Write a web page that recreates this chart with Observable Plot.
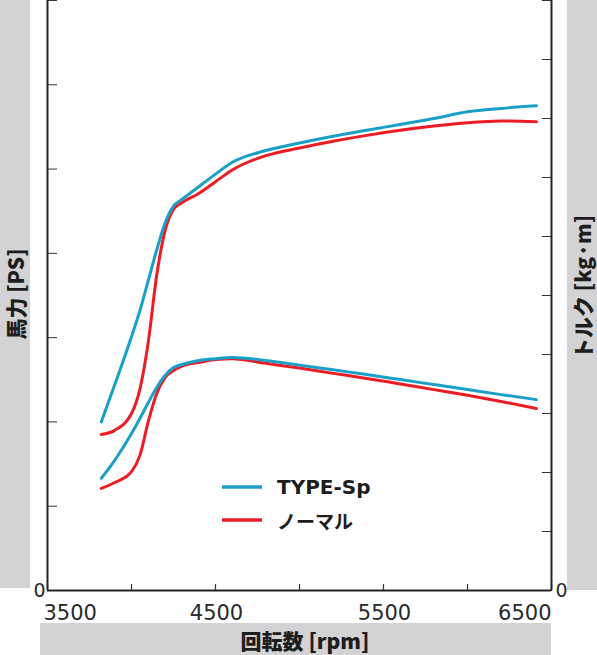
<!DOCTYPE html>
<html>
<head>
<meta charset="utf-8">
<script src="https://cdn.jsdelivr.net/npm/d3@7"></script>
<script src="https://cdn.jsdelivr.net/npm/@observablehq/plot@0.6"></script>
<style>
  body { margin: 0; background: #ffffff; }
</style>
</head>
<body>
<div id="chart"></div>
<script>
// engine speed (rpm) where the curves were read
const rpm = [3820, 3900, 4000, 4050, 4100, 4150, 4200, 4250, 4300, 4400, 4500,
  4600, 4800, 5000, 5200, 5400, 5600, 5800, 6000, 6200, 6410]

// power [PS]
const psSp =     [20.0, 24.4, 30.1, 33.2, 36.8, 40.4, 43.6, 45.6, 46.4, 47.9, 49.4,
  50.8, 52.2, 53.1, 53.9, 54.6, 55.3, 56.0, 56.8, 57.2, 57.5]
const psNormal = [18.5, 19.0, 21.0, 23.9, 29.5, 37.4, 42.7, 45.2, 46.0, 47.1, 48.5,
  49.9, 51.6, 52.5, 53.3, 54.0, 54.6, 55.1, 55.5, 55.7, 55.6]

// torque [kg·m]
const tqSp =     [3.80, 4.41, 5.32, 5.83, 6.37, 6.88, 7.29, 7.56, 7.66, 7.80, 7.86,
  7.90, 7.80, 7.64, 7.48, 7.32, 7.15, 6.98, 6.81, 6.64, 6.47]
const tqNormal = [3.46, 3.66, 4.03, 4.58, 5.73, 6.68, 7.22, 7.46, 7.61, 7.73, 7.83,
  7.86, 7.70, 7.54, 7.36, 7.19, 7.00, 6.81, 6.62, 6.41, 6.17]

const series = ['ノーマル', 'TYPE-Sp']
const colors = ['#ec1c24', '#1a9fc6']

const xTicks = [3500, 4000, 4500, 5000, 5500, 6000, 6500]
const xLabels = [3500, 4500, 5500, 6500]
const psTicks = [0, 10, 20, 30, 40, 50, 60, 70]
const tqTicks = [0, 2, 4, 6, 8, 10, 12, 14, 16, 18, 20]

const psMax = 70
const tqMax = 20
const k = psMax / tqMax   // torque drawn on the power scale

let rows = []
rpm.forEach((r, i) => {
  rows.push({rpm: r, v: psNormal[i], s: 'ノーマル', z: 'ps-n'})
  rows.push({rpm: r, v: tqNormal[i] * k, s: 'ノーマル', z: 'tq-n'})
})
rpm.forEach((r, i) => {
  rows.push({rpm: r, v: psSp[i], s: 'TYPE-Sp', z: 'ps-s'})
  rows.push({rpm: r, v: tqSp[i] * k, s: 'TYPE-Sp', z: 'tq-s'})
})

const tickFont = 'DejaVu Sans'
const labelFont = '"Noto Sans CJK JP", "Noto Sans", sans-serif'
const ink = '#2a2a2a'

let chart = Plot.plot({
  width: 597,
  height: 655,
  marginLeft: 47,
  marginRight: 46,
  marginTop: 0,
  marginBottom: 65,
  x: { domain: [3500, 6500], axis: null },
  y: { domain: [0, psMax], axis: null },
  color: { domain: series, range: colors },
  marks: [
    // short inward ticks on the rpm axis
    Plot.tickX(xTicks, { x: d => d, insetTop: 584, stroke: '#333', strokeWidth: 1.2 }),
    Plot.axisY({ ticks: psTicks, anchor: 'left', tickSize: -10, fill: 'none', stroke: '#333', label: null }),
    Plot.axisY(tqTicks.map(t => t * k), { anchor: 'right', tickSize: -10, fill: 'none', stroke: '#333', label: null }),
    Plot.ruleX([3500, 6500], { stroke: '#222', strokeWidth: 2 }),
    Plot.ruleY([0], { stroke: '#222', strokeWidth: 2 }),
    Plot.line(rows, {
      x: 'rpm', y: 'v', z: 'z', stroke: 's',
      strokeWidth: 3, curve: 'monotone-x'
    }),
    Plot.text(xLabels.slice(0, 1), {
      x: d => d, text: d => String(d), frameAnchor: 'bottom', textAnchor: 'start',
      dx: -4, dy: 29, fontSize: 21, fontFamily: tickFont, fill: ink
    }),
    Plot.text(xLabels.slice(1, -1), {
      x: d => d, text: d => String(d), frameAnchor: 'bottom',
      dx: 1, dy: 29, fontSize: 21, fontFamily: tickFont, fill: ink
    }),
    Plot.text(xLabels.slice(-1), {
      x: d => d, text: d => String(d), frameAnchor: 'bottom', textAnchor: 'end',
      dy: 29, fontSize: 21, fontFamily: tickFont, fill: ink
    }),
    Plot.text([0], {
      y: d => d, text: d => String(d), frameAnchor: 'left', textAnchor: 'end',
      dx: -2, dy: 0, fontSize: 19, fontFamily: tickFont, fill: ink
    }),
    Plot.text([0], {
      y: d => d, text: d => String(d), frameAnchor: 'right', textAnchor: 'start',
      dx: 4, dy: 0, fontSize: 19, fontFamily: tickFont, fill: ink
    }),
  ],
  style: {
    background: '#ffffff',
    color: '#222',
  }
})

// grey title bands around the plot
const svg = d3.select(chart)
const bands = svg.insert('g', ':first-child')
const grey = '#d3d3d5'
bands.append('rect').attr('x', 0).attr('y', 0).attr('width', 30).attr('height', 588).attr('fill', grey)
bands.append('rect').attr('x', 567).attr('y', 0).attr('width', 30).attr('height', 590).attr('fill', grey)
bands.append('rect').attr('x', 40).attr('y', 623).attr('width', 511).attr('height', 32).attr('fill', grey)

const titles = [
  { t: '馬力 [PS]', x: 15, y: 294, r: -90 },
  { t: 'トルク [kg·m]', x: 582, y: 287, r: -90 },
  { t: '回転数 [rpm]', x: 305, y: 640, r: 0 },
]
titles.forEach(d => {
  svg.append('text')
    .attr('transform', `translate(${d.x},${d.y}) rotate(${d.r})`)
    .attr('text-anchor', 'middle')
    .attr('dominant-baseline', 'central')
    .attr('font-family', labelFont)
    .attr('font-weight', 900)
    .attr('font-size', 21)
    .attr('fill', '#1d1d1d')
    .text(d.t)
})

// legend
const legend = svg.append('g')
const legendOrder = ['TYPE-Sp', 'ノーマル']
legendOrder.forEach((s, i) => {
  const y = 487 + 33 * i
  legend.append('line')
    .attr('x1', 222).attr('x2', 262).attr('y1', y).attr('y2', y)
    .attr('stroke', colors[series.indexOf(s)]).attr('stroke-width', 3.5)
  legend.append('text')
    .attr('x', 277).attr('y', y)
    .attr('text-anchor', 'start')
    .attr('dominant-baseline', 'central')
    .attr('font-family', i == 0 ? tickFont : labelFont)
    .attr('font-weight', 'bold')
    .attr('font-size', i == 0 ? 20 : 19)
    .attr('fill', '#1d1d1d')
    .text(s)
})

d3.select('#chart').append(() => chart)
</script>
</body>
</html>
